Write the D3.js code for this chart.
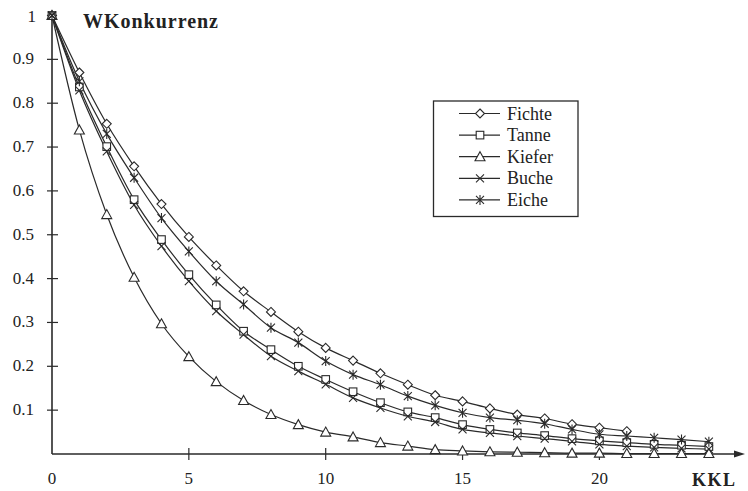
<!DOCTYPE html>
<html><head><meta charset="utf-8">
<script src="https://cdn.jsdelivr.net/npm/d3@7/dist/d3.min.js"></script>
<style>body{margin:0;background:#fff}svg{display:block}text{font-family:"Liberation Serif","Times New Roman","DejaVu Serif",serif;fill:#222}</style>
</head><body>
<svg id="c" width="748" height="491"></svg>
<script>
const seriesNames = ["Fichte","Tanne","Kiefer","Buche","Eiche"];
const fichte = [1,0.87,0.753,0.656,0.57,0.495,0.43,0.371,0.324,0.279,0.242,0.213,0.184,0.158,0.134,0.12,0.104,0.09,0.081,0.068,0.06,0.052];
const tanne  = [1,0.837,0.701,0.58,0.489,0.409,0.34,0.28,0.238,0.2,0.17,0.142,0.117,0.096,0.083,0.067,0.056,0.048,0.042,0.035,0.03,0.026,0.022,0.02,0.017];
const kiefer = [1,0.739,0.546,0.403,0.297,0.222,0.165,0.122,0.09,0.067,0.05,0.039,0.026,0.018,0.01,0.007,0.005,0.004,0.003,0.002,0.002,0.001,0.001,0.001,0.001];
const buche  = [1,0.829,0.69,0.568,0.474,0.394,0.326,0.272,0.223,0.189,0.159,0.128,0.105,0.086,0.073,0.056,0.048,0.041,0.035,0.029,0.022,0.018,0.015,0.013,0.011];
const eiche  = [1,0.85,0.73,0.63,0.538,0.462,0.394,0.341,0.288,0.254,0.212,0.181,0.158,0.132,0.111,0.094,0.083,0.077,0.069,0.056,0.045,0.041,0.037,0.033,0.028];
const yTicks = [0.1,0.2,0.3,0.4,0.5,0.6,0.7,0.8,0.9];
const xTicks = [5,10,15,20];
const yTitle = "WKonkurrenz", xTitle = "KKL";

const svg = d3.select("#c");
const col = "#2a2a2a";
const x = d3.scaleLinear().domain([0,10]).range([52,325.7]);
const y = d3.scaleLinear().domain([0,1]).range([454,15.5]);

// axes
svg.append("line").attr("x1",52).attr("x2",52).attr("y1",y(0)).attr("y2",14).attr("stroke",col).attr("stroke-width",1.6);
svg.append("line").attr("x1",52).attr("x2",737).attr("y1",y(0)).attr("y2",y(0)).attr("stroke",col).attr("stroke-width",1.6);
svg.append("path").attr("d",`M745,${y(0)} L734,${y(0)-3.5} L734,${y(0)+3.5}Z`).attr("fill",col);

const gy = svg.append("g");
yTicks.forEach(t=>{
  gy.append("line").attr("x1",47).attr("x2",58).attr("y1",y(t)).attr("y2",y(t)).attr("stroke",col).attr("stroke-width",1.2);
  gy.append("text").attr("x",34).attr("y",y(t)+5).attr("text-anchor","end").attr("font-size",17).text(t);
});
gy.append("text").attr("x",36).attr("y",y(1)+6).attr("text-anchor","end").attr("font-size",17).text("1");
const gx = svg.append("g");
xTicks.forEach(t=>{
  gx.append("line").attr("x1",x(t)).attr("x2",x(t)).attr("y1",y(0)-6).attr("y2",y(0)+6).attr("stroke",col).attr("stroke-width",1.2);
  gx.append("text").attr("x",x(t)).attr("y",484).attr("text-anchor","middle").attr("font-size",17).text(t);
});
gx.append("text").attr("x",x(0)).attr("y",484).attr("text-anchor","middle").attr("font-size",17).text("0");
svg.append("text").attr("x",83).attr("y",28).attr("font-size",20).attr("font-weight","bold").attr("textLength",135).text(yTitle);
svg.append("text").attr("x",692).attr("y",486).attr("font-size",18).attr("font-weight","bold").attr("textLength",43).text(xTitle);

// markers
function marker(g, type, cx, cy){
  const s = g.append("g").attr("transform",`translate(${cx},${cy})`).attr("stroke",col).attr("stroke-width",1.1).attr("fill","#fff");
  if(type==="diamond") s.append("path").attr("d","M0,-4.5L4.5,0L0,4.5L-4.5,0Z");
  else if(type==="square") s.append("rect").attr("x",-3.8).attr("y",-3.8).attr("width",7.6).attr("height",7.6);
  else if(type==="triangle") s.append("path").attr("d","M0,-5L5,4L-5,4Z");
  else if(type==="x") s.append("path").attr("d","M-4,-4L4,4M-4,4L4,-4").attr("fill","none");
  else if(type==="star") s.append("path").attr("d","M-4,-4L4,4M-4,4L4,-4M0,-5L0,5").attr("fill","none");
}
const data = [fichte,tanne,kiefer,buche,eiche];
const types = ["diamond","square","triangle","x","star"];
const line = d3.line().x((d,i)=>x(i)).y(d=>y(d)).curve(d3.curveMonotoneX);
const gl = svg.append("g");
data.forEach(arr=>{
  gl.append("path").attr("d",line(arr)).attr("fill","none").attr("stroke",col).attr("stroke-width",1.2);
});
data.forEach((arr,k)=>{
  arr.forEach((v,i)=>marker(gl,types[k],x(i),y(v)));
});

// legend
const lg = svg.append("g");
lg.append("rect").attr("x",433.5).attr("y",101).attr("width",144.5).attr("height",115.5).attr("fill","#fff").attr("stroke",col).attr("stroke-width",1.3);
seriesNames.forEach((n,k)=>{
  const ly = 113.5 + k*21.6;
  lg.append("line").attr("x1",459).attr("x2",500).attr("y1",ly).attr("y2",ly).attr("stroke",col).attr("stroke-width",1.2);
  marker(lg,types[k],480,ly);
  lg.append("text").attr("x",507).attr("y",ly+6).attr("font-size",18).text(n);
});
</script>
</body></html>
